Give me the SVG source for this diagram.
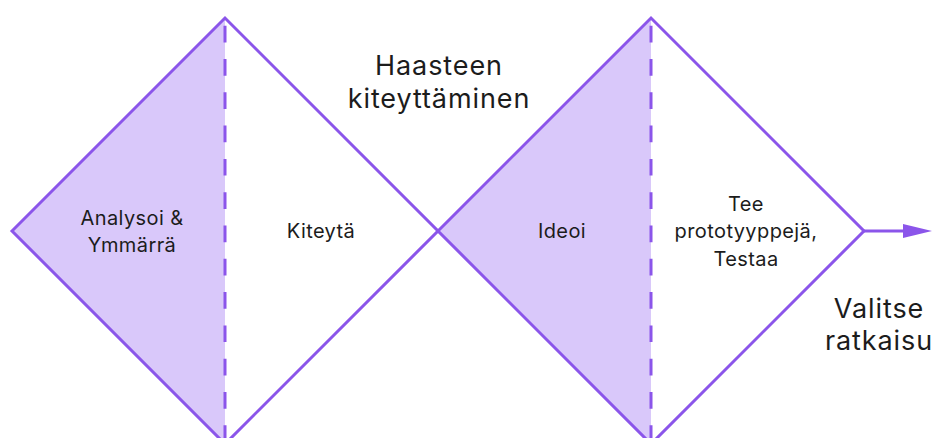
<svg xmlns="http://www.w3.org/2000/svg" width="934" height="438" viewBox="0 0 934 438">
<defs>
<style>
.fill{fill:#d9c8fa;stroke:none}
.edge{fill:none;stroke:#8b55ea;stroke-width:3;stroke-linejoin:miter}
.dash{stroke:#8b55ea;stroke-width:3;stroke-dasharray:16.7 16.6}
.lbl{font-family:Inter,"Liberation Sans",sans-serif;font-size:20px;fill:#1c1c1c;text-anchor:middle;letter-spacing:0.4px}
.big{font-family:Inter,"Liberation Sans",sans-serif;font-size:27px;fill:#1c1c1c;text-anchor:middle;letter-spacing:0.9px}
</style>
</defs>
<g id="diamond1">
<polygon class="fill" points="12,231 225,18 225,444"/>
<polygon class="edge" points="12,231 225,18 438,231 225,444"/>
<line class="dash" x1="225" y1="17" x2="225" y2="440" style="stroke-dashoffset:-8.7"/>
</g>
<g id="diamond2">
<polygon class="fill" points="438,231 651,18 651,444"/>
<polygon class="edge" points="438,231 651,18 864,231 651,444"/>
<line class="dash" x1="651" y1="17" x2="651" y2="440" style="stroke-dashoffset:-8.7"/>
</g>
<g id="connectors">
<line x1="864" y1="231" x2="903" y2="231" stroke="#8b55ea" stroke-width="3"/>
<path d="M903,224 L932,231 L903,238 Z" fill="#8b55ea"/>
</g>
<g id="analyse"><text class="lbl" x="132" y="225">Analysoi &amp;</text><text class="lbl" x="132" y="252">Ymmärrä</text></g>
<g id="kiteyta"><text class="lbl" x="321" y="238">Kiteytä</text></g>
<g id="ideoi"><text class="lbl" x="562" y="238">Ideoi</text></g>
<g id="tee"><text class="lbl" x="746" y="211">Tee</text><text class="lbl" x="746" y="238">prototyyppejä,</text><text class="lbl" x="746" y="266">Testaa</text></g>
<g id="haaste"><text class="big" x="439" y="75">Haasteen</text><text class="big" x="439" y="108">kiteyttäminen</text></g>
<g id="valitse"><text class="big" x="879" y="318">Valitse</text><text class="big" x="879" y="350">ratkaisu</text></g>
</svg>
